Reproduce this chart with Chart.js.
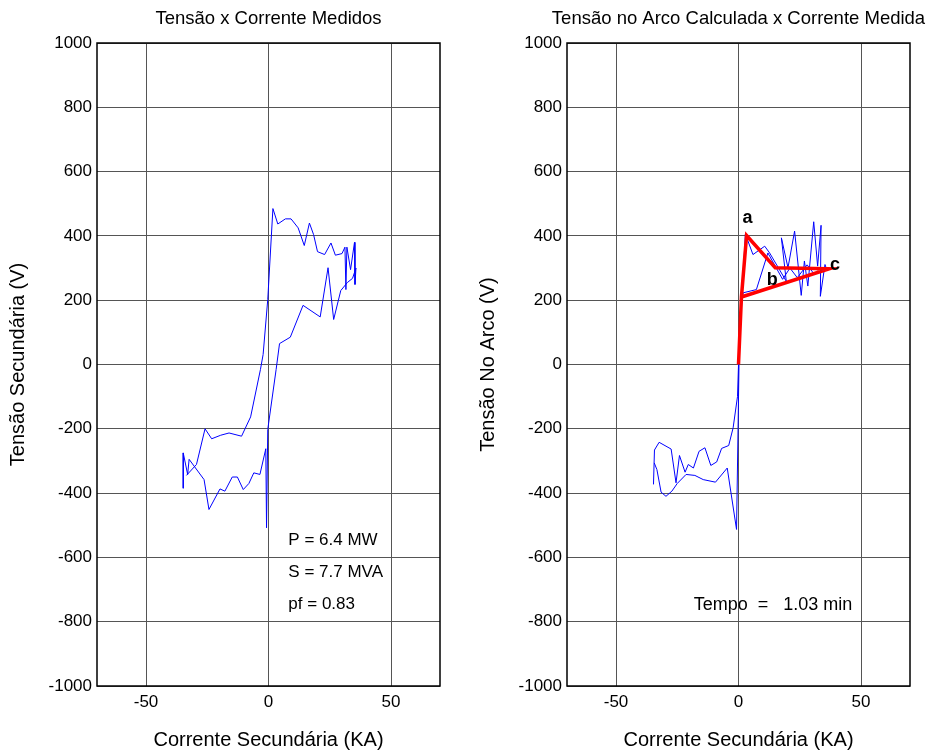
<!DOCTYPE html>
<html lang="pt">
  <head>
    <meta charset="UTF-8" />
    <title>Tensão x Corrente</title>
    <script src="https://cdn.jsdelivr.net/npm/chart.js"></script>
    <style>
      body {
        margin: 0;
        background: #fff;
        width: 940px;
        height: 753px;
        position: relative;
        overflow: hidden;
      }
      .plot {
        position: absolute;
        top: 0;
        width: 470px;
        height: 753px;
      }
    </style>
  </head>
  <body>
    <div class="plot" style="left: 0"><canvas id="medidos" width="470" height="753"></canvas></div>
    <div class="plot" style="left: 470px"><canvas id="arco" width="470" height="753"></canvas></div>
    <script>
      // eixos
      const xTicks = [-50, 0, 50];
      const yMin = -1000;
      const yMax = 1000;
      const yStep = 200;

      // grafico 1: tensao x corrente medidos
      const medX = [-33.5, -29.4, -25.9, -23.2, -19.5, -16.1, -11, -7.3, -3.3, -2.2, -0.3, 1.8, 3.8, 6.9, 9.2, 12.1, 14.6, 16.7, 18.4, 20, 22.9, 25.5, 27.3, 30, 31.2, 31.6, 32, 33.5, 35.1, 35.3, 35.7, 34.3, 32.2, 29.5, 26.6, 24.3, 21.1, 14.1, 8.9, 4.5, 3.1, -0.3, -0.8, -1.1, -3.5, -6, -8, -10.3, -12.7, -14.8, -17.8, -19.8, -24.3, -26.3, -32.4, -33, -34.8, -34.8];
      const medY = [-345, -311, -200, -231, -220, -213, -223, -163, -16, 31, 202, 485, 437, 453, 453, 425, 370, 440, 404, 351, 342, 378, 340, 345, 365, 233, 365, 295, 380, 249, 300, 268, 255, 230, 140, 301, 148, 184, 85, 65, -16, -202, -508, -262, -342, -337, -370, -389, -350, -350, -394, -387, -451, -358, -295, -342, -275, -385];
      const medTexts = ["P = 6.4 MW", "S = 7.7 MVA", "pf = 0.83"];
      const medTextX = [8.1, 8.1, 8.1];
      const medTextY = [-547, -647, -747];

      // grafico 2: tensao no arco calculada
      const arcoX = [-34.7, -34.3, -32.4, -27.5, -25.5, -24.1, -21.8, -20.5, -18.4, -16.1, -13.7, -11.3, -8.9, -6.9, -4, -2.2, -0.4, 0, 2.8, 5.9, 10.7, 12.7, 19.5, 17.5, 20.2, 22.9, 25.6, 26.9, 28.3, 30.7, 32.3, 33.7, 33.4, 35.3, 35.8, 31, 28, 24, 21, 18, 12, 7.3, 1.9, 0.5, -0.8, -4.6, -9.4, -14.4, -17.8, -21.4, -25, -27.2, -29.6, -31.6, -33.3, -34.4];
      const arcoY = [-373, -266, -242, -263, -368, -283, -335, -311, -322, -270, -259, -314, -303, -261, -252, -197, -99, 0, 406, 342, 368, 347, 259, 394, 301, 415, 215, 322, 244, 444, 306, 433, 212, 311, 300, 280, 310, 270, 300, 265, 347, 233, 223, 150, -513, -322, -366, -358, -345, -342, -370, -394, -410, -397, -327, -306];
      const modeloX = [0, 1.2, 3.3, 15, 37, 1.2];
      const modeloY = [0, 210, 401, 301, 298, 210];
      const pontoLabels = ["a", "b", "c"];
      const pontoX = [3.7, 13.8, 39.4];
      const pontoY = [457, 264, 308];
      const arcoTexts = ["Tempo  =   1.03 min"];
      const arcoTextX = [-18.3];
      const arcoTextY = [-747];

      const FONT = '"Liberation Sans", Arial, Helvetica, sans-serif';
      Chart.defaults.font.family = FONT;
      Chart.defaults.font.size = 17;
      Chart.defaults.color = "#000";

      const toPoints = (xs, ys) => xs.map((x, i) => ({ x: x, y: ys[i] }));

      // moldura, titulo e textos dentro do grafico
      const extras = {
        id: "extras",
        afterDraw(chart, args, opts) {
          const { ctx, chartArea: a, scales } = chart;
          ctx.save();
          ctx.strokeStyle = "#000";
          ctx.lineWidth = 1.5;
          ctx.strokeRect(a.left, a.top, a.right - a.left, a.bottom - a.top);
          ctx.fillStyle = "#000";
          ctx.font = "18.5px " + FONT;
          ctx.textAlign = "center";
          ctx.textBaseline = "middle";
          ctx.fillText(opts.title, (a.left + a.right) / 2, 19);
          ctx.font = opts.textSize + "px " + FONT;
          ctx.textAlign = "left";
          (opts.texts || []).forEach((t, i) => {
            ctx.fillText(t, scales.x.getPixelForValue(opts.textX[i]), scales.y.getPixelForValue(opts.textY[i]));
          });
          ctx.font = "bold 18px " + FONT;
          ctx.textAlign = "center";
          (opts.labels || []).forEach((t, i) => {
            ctx.fillText(t, scales.x.getPixelForValue(opts.labelX[i]), scales.y.getPixelForValue(opts.labelY[i]));
          });
          ctx.restore();
        },
      };

      const makeOptions = (yTitle, extraOpts) => ({
        responsive: false,
        animation: false,
        layout: { padding: { left: 0, top: 43, right: 30, bottom: 0 } },
        plugins: { legend: { display: false }, tooltip: { enabled: false }, extras: extraOpts },
        scales: {
          x: {
            type: "linear",
            min: -70,
            max: 70,
            afterBuildTicks: (scale) => {
              scale.ticks = xTicks.map((v) => ({ value: v }));
            },
            afterFit: (scale) => {
              scale.height = 67;
            },
            grid: { color: "#555", lineWidth: 1, drawTicks: false },
            border: { display: false },
            ticks: { padding: 6, maxRotation: 0, callback: (v) => String(v) },
            title: { display: true, text: "Corrente Secundária (KA)", font: { size: 20 }, padding: { top: 0, bottom: 1 } },
          },
          y: {
            min: yMin,
            max: yMax,
            ticks: { stepSize: yStep, padding: 5, callback: (v) => String(v) },
            afterFit: (scale) => {
              scale.width = 97;
            },
            grid: { color: "#555", lineWidth: 1, drawTicks: false },
            border: { display: false },
            title: { display: true, text: yTitle, font: { size: 20 }, padding: { top: 6, bottom: 0 } },
          },
        },
      });

      new Chart(document.getElementById("medidos"), {
        type: "scatter",
        data: {
          datasets: [
            {
              data: toPoints(medX, medY),
              showLine: true,
              borderColor: "#0000ff",
              borderWidth: 1,
              pointRadius: 0,
            },
          ],
        },
        options: makeOptions("Tensão Secundária (V)", {
          title: "Tensão x Corrente Medidos",
          texts: medTexts,
          textX: medTextX,
          textY: medTextY,
          textSize: 17,
        }),
        plugins: [extras],
      });

      new Chart(document.getElementById("arco"), {
        type: "scatter",
        data: {
          datasets: [
            {
              data: toPoints(modeloX, modeloY),
              showLine: true,
              borderColor: "#ff0000",
              borderWidth: 3.5,
              pointRadius: 0,
              order: 0,
            },
            {
              data: toPoints(arcoX, arcoY),
              showLine: true,
              borderColor: "#0000ff",
              borderWidth: 1,
              pointRadius: 0,
              order: 1,
            },
          ],
        },
        options: makeOptions("Tensão No Arco (V)", {
          title: "Tensão no Arco Calculada x Corrente Medida",
          texts: arcoTexts,
          textX: arcoTextX,
          textY: arcoTextY,
          textSize: 18,
          labels: pontoLabels,
          labelX: pontoX,
          labelY: pontoY,
        }),
        plugins: [extras],
      });
    </script>
  </body>
</html>
